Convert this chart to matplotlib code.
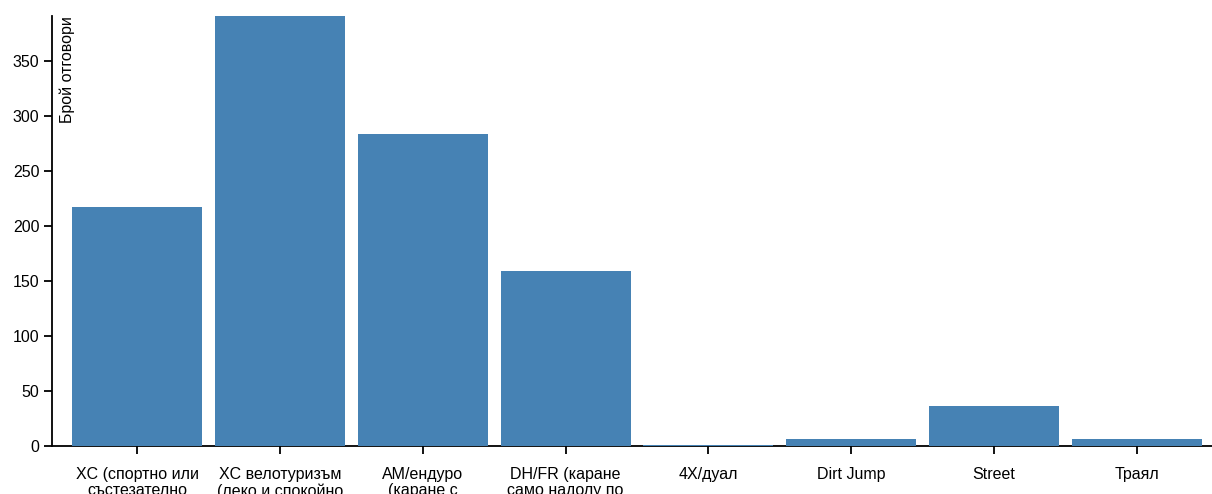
import matplotlib
matplotlib.use("Agg")
import matplotlib.pyplot as plt
from matplotlib import transforms

plt.rcParams['font.family'] = ['Liberation Sans', 'DejaVu Sans']

categories = [
    "XC (спортно или\nсъстезателно",
    "XC велотуризъм\n(леко и спокойно",
    "AM/ендуро\n(каране с",
    "DH/FR (каране\nсамо надолу по",
    "4X/дуал",
    "Dirt Jump",
    "Street",
    "Траял",
]
values = [217, 391, 284, 159, 1, 6, 36, 6]
y_ticks = [0, 50, 100, 150, 200, 250, 300, 350]
y_label = "Брой отговори"

W, H = 1212, 494
fig = plt.figure(figsize=(W / 100, H / 100), dpi=100)
ax = fig.add_axes([52 / W, 48 / H, (W - 52) / W, 430 / H])

x = list(range(len(categories)))
ax.bar(x, values, width=0.91, color="#4682b4", zorder=3)

ax.set_xlim(-0.595, 7.525)
ax.set_ylim(0, max(values))
ax.set_yticks(y_ticks)
ax.set_xticks(x)
ax.set_xticklabels(categories, fontsize=11.5, linespacing=1.1, va='top')

for s in ("top", "right"):
    ax.spines[s].set_visible(False)
for s in ("left", "bottom"):
    ax.spines[s].set_color("#000000")
    ax.spines[s].set_linewidth(1.3)

ax.tick_params(axis='both', length=6, width=1.3, color="#000000",
               labelsize=11.5, labelcolor="#000000")
ax.tick_params(axis='x', pad=9)
ax.tick_params(axis='y', pad=3)

off = transforms.offset_copy(ax.transAxes, fig=fig, x=15, y=0, units='dots')
ax.text(0, 1, y_label, rotation=90, ha='center', va='top',
        transform=off, fontsize=11.5, color="#000000")

fig.savefig("out.png", dpi=100)
